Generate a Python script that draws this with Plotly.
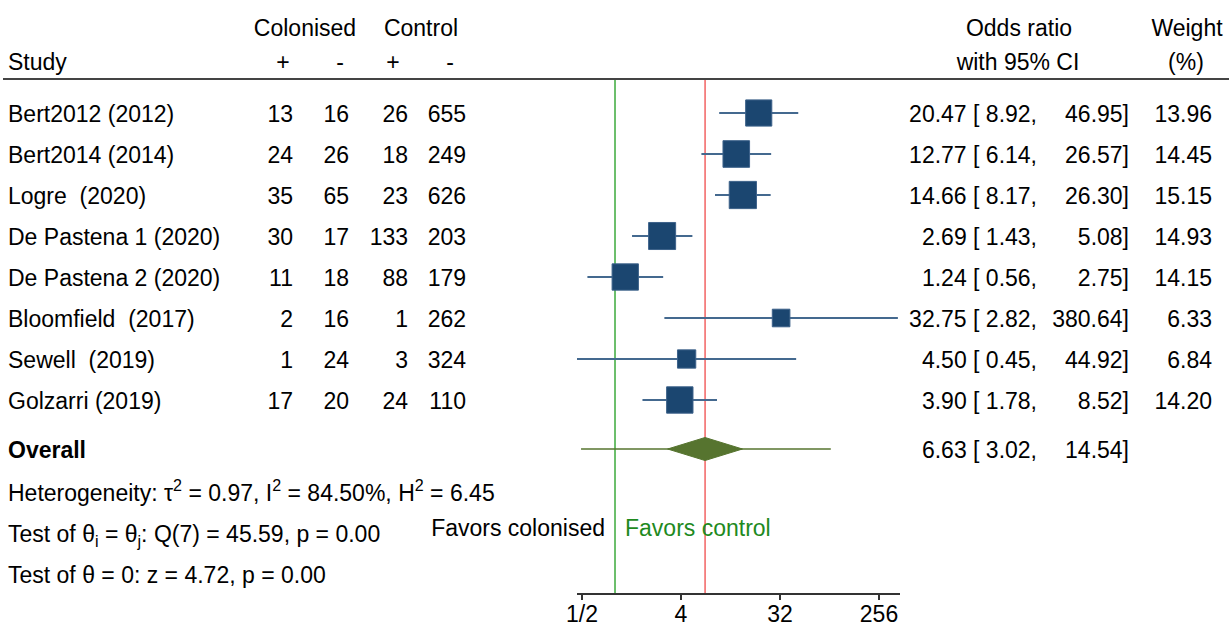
import numpy as np
import plotly.graph_objects as go

# ---------------- data ----------------
studies = ["Bert2012 (2012)", "Bert2014 (2014)", "Logre\u00a0 (2020)", "De Pastena 1 (2020)",
           "De Pastena 2 (2020)", "Bloomfield\u00a0 (2017)", "Sewell\u00a0 (2019)", "Golzarri (2019)"]
col_pos = [13, 24, 35, 30, 11, 2, 1, 17]
col_neg = [16, 26, 65, 17, 18, 16, 24, 20]
ctl_pos = [26, 18, 23, 133, 88, 1, 3, 24]
ctl_neg = [655, 249, 626, 203, 179, 262, 324, 110]
odds = [20.47, 12.77, 14.66, 2.69, 1.24, 32.75, 4.50, 3.90]
ci_lo = [8.92, 6.14, 8.17, 1.43, 0.56, 2.82, 0.45, 1.78]
ci_hi = [46.95, 26.57, 26.30, 5.08, 2.75, 380.64, 44.92, 8.52]
weight = [13.96, 14.45, 15.15, 14.93, 14.15, 6.33, 6.84, 14.20]

overall_or = 6.63
overall_lo = 3.02
overall_hi = 14.54
pred_lo = 0.49   # prediction interval
pred_hi = 93.0

tick_vals = [0.5, 4, 32, 256]
tick_text = ["1/2", "4", "32", "256"]

footer = [
    "Heterogeneity: \u03c4<sup>2</sup> = 0.97, I<sup>2</sup> = 84.50%, H<sup>2</sup> = 6.45",
    "Test of \u03b8<sub>i</sub> = \u03b8<sub>j</sub>: Q(7) = 45.59, p = 0.00",
    "Test of \u03b8 = 0: z = 4.72, p = 0.00",
]

# ---------------- layout constants (pixels) ----------------
W, H = 1229, 628
FONT = "Liberation Sans, Arial, Helvetica, sans-serif"
FS = 23
TDY = 3  # text baseline correction
row0, step = 113, 41
rows_y = [row0 + i * step for i in range(len(studies))]
overall_y = 449
footer_y = [492, 533, 574]
hdr1_y, hdr2_y = 27, 61
rule_y = 79
axis_y = 594

sq_color = "#1b4670"
ci_color = "#44698f"
dia_color = "#56742f"

fig = go.Figure()

# CI lines
xs, ys = [], []
for lo, hi, y in zip(ci_lo, ci_hi, rows_y):
    xs += [lo, hi, None]
    ys += [y, y, None]
fig.add_trace(go.Scatter(x=xs, y=ys, mode="lines", line=dict(color=ci_color, width=2),
                         hoverinfo="skip", showlegend=False, cliponaxis=False))

# Squares
fig.add_trace(go.Scatter(x=odds, y=rows_y, mode="markers",
                         marker=dict(symbol="square", size=[7.0 * np.sqrt(w) for w in weight],
                                     color=sq_color, opacity=1,
                                     line=dict(color="#3d628a", width=1)),
                         showlegend=False, cliponaxis=False))

# Overall prediction line
fig.add_trace(go.Scatter(x=[pred_lo, pred_hi], y=[overall_y, overall_y], mode="lines",
                         line=dict(color=dia_color, width=1.5), showlegend=False, hoverinfo="skip"))
# Diamond
half = 11.5
fig.add_trace(go.Scatter(x=[overall_lo, overall_or, overall_hi, overall_or, overall_lo],
                         y=[overall_y, overall_y - half, overall_y, overall_y + half, overall_y],
                         mode="lines", fill="toself", fillcolor=dia_color,
                         line=dict(color=dia_color, width=1), showlegend=False, hoverinfo="skip"))

shapes = []
shapes.append(dict(type="line", xref="x", yref="y", x0=1, x1=1, y0=rule_y, y1=axis_y,
                   line=dict(color="#5cb85c", width=1.8), layer="below"))
shapes.append(dict(type="line", xref="x", yref="y", x0=overall_or, x1=overall_or, y0=rule_y, y1=axis_y,
                   line=dict(color="#ee3b3b", width=1.2), layer="below"))
shapes.append(dict(type="line", xref="paper", yref="y", x0=3 / W, x1=1, y0=rule_y, y1=rule_y,
                   line=dict(color="#444444", width=2)))

# ---------------- text (scatter text on a full-page pixel subplot) ----------------
groups = {}


def txt(x, y, s, anchor="left", color="#000000"):
    pos = {"left": "middle right", "right": "middle left", "center": "middle center"}[anchor]
    key = (pos, color)
    g = groups.setdefault(key, ([], [], []))
    g[0].append(x)
    g[1].append(y + TDY)
    g[2].append(s)


txt(305, hdr1_y, "Colonised", "center")
txt(421, hdr1_y, "Control", "center")
txt(8, hdr2_y, "Study")
txt(283, hdr2_y, "+", "center")
txt(340, hdr2_y, "-", "center")
txt(393, hdr2_y, "+", "center")
txt(450, hdr2_y, "-", "center")
txt(1019, hdr1_y, "Odds ratio", "center")
txt(1018, hdr2_y, "with 95% CI", "center")
txt(1187, hdr1_y, "Weight", "center")
txt(1186, hdr2_y, "(%)", "center")

for i, y in enumerate(rows_y):
    txt(8, y, studies[i])
    txt(293, y, str(col_pos[i]), "right")
    txt(349, y, str(col_neg[i]), "right")
    txt(408, y, str(ctl_pos[i]), "right")
    txt(466, y, str(ctl_neg[i]), "right")
    txt(1037, y, f"{odds[i]:.2f} [{ci_lo[i]:5.2f},".replace(" ", "\u00a0"), "right")
    txt(1129, y, f"{ci_hi[i]:.2f}]", "right")
    txt(1212, y, f"{weight[i]:.2f}", "right")

txt(8, overall_y, "<b>Overall</b>")
txt(1037, overall_y, f"{overall_or:.2f} [{overall_lo:5.2f},".replace(" ", "\u00a0"), "right")
txt(1129, overall_y, f"{overall_hi:.2f}]", "right")

for s, y in zip(footer, footer_y):
    txt(8, y, s)

txt(605, 527, "Favors colonised", "right")
txt(625, 527, "Favors control", "left", color="#1e8a1e")

for (pos, color), (gx, gy, gs) in groups.items():
    fig.add_trace(go.Scatter(x=gx, y=gy, text=gs, mode="text", textposition=pos,
                             textfont=dict(family=FONT, size=FS, color=color),
                             xaxis="x2", yaxis="y2", cliponaxis=False,
                             showlegend=False, hoverinfo="skip"))

x_px0, x_px1 = 577, 900
fig.update_layout(
    width=W, height=H,
    margin=dict(l=0, r=0, t=0, b=0, pad=0, autoexpand=False),
    paper_bgcolor="white", plot_bgcolor="rgba(0,0,0,0)",
    shapes=shapes,
    xaxis=dict(type="log", domain=[x_px0 / W, x_px1 / W],
               range=[np.log10(0.450), np.log10(398)],
               tickvals=tick_vals, ticktext=tick_text,
               ticks="outside", ticklen=5, tickwidth=1.5, tickcolor="#333333",
               showline=True, linecolor="#333333", linewidth=1.5,
               showgrid=False, zeroline=False, automargin=False,
               anchor="free", position=(H - axis_y) / H,
               tickfont=dict(family=FONT, size=FS, color="#000000")),
    yaxis=dict(range=[H, 0], domain=[0, 1], visible=False, showgrid=False,
               zeroline=False, automargin=False),
    xaxis2=dict(domain=[0, 1], range=[0, W], anchor="y2", visible=False,
                showgrid=False, zeroline=False, automargin=False),
    yaxis2=dict(domain=[0, 1], range=[H, 0], anchor="x2", visible=False,
                showgrid=False, zeroline=False, automargin=False),
    showlegend=False,
)
try:
    fig.update_xaxes(ticklabelstandoff=-5, selector=dict(type="log"))
except Exception:
    pass

fig.write_html("out.html", config={"displayModeBar": False},
               post_script="document.body.style.margin='0';")
